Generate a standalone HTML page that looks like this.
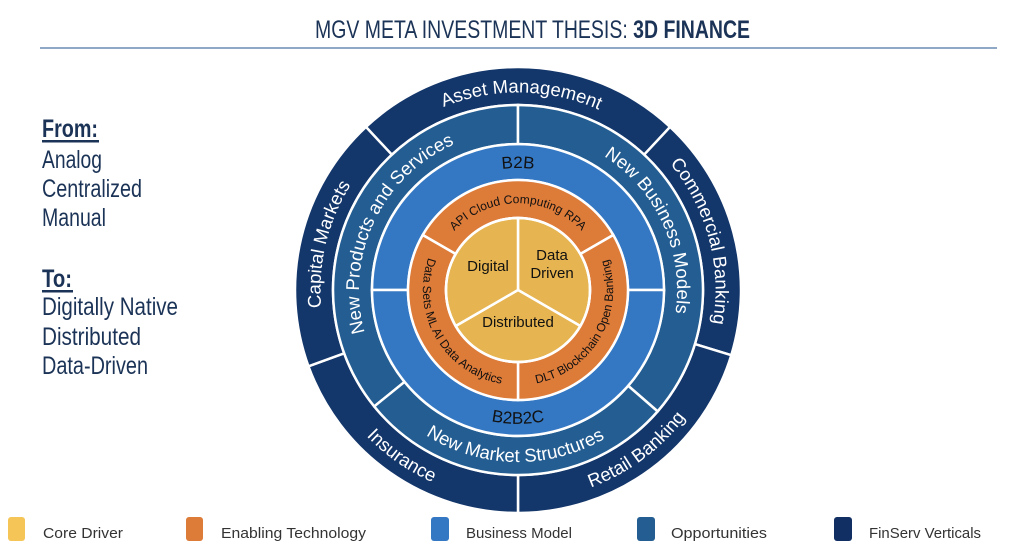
<!DOCTYPE html>
<html><head><meta charset="utf-8"><style>
html,body{margin:0;padding:0;background:#fff;}
svg{display:block}
.n{font-family:"Liberation Sans Narrow","Liberation Sans",sans-serif;fill:#1b3356}
.w{font-family:"Liberation Sans",sans-serif;fill:#fff}
.k{font-family:"Liberation Sans",sans-serif;fill:#111}
.lg{font-family:"Liberation Sans Narrow","Liberation Sans",sans-serif;fill:#333;font-size:15px}
</style></head><body>
<svg id="s" width="1024" height="559" viewBox="0 0 1024 559" xmlns="http://www.w3.org/2000/svg">
<defs id="d"></defs>
<text class="n" x="315" y="38" font-size="25" textLength="435" lengthAdjust="spacingAndGlyphs">MGV META INVESTMENT THESIS: <tspan font-weight="bold">3D FINANCE</tspan></text>
<rect x="40" y="47" width="957" height="2" fill="#8fa8c6"/>
<g class="n" font-size="25">
<text x="42" y="137" font-weight="bold" textLength="56" lengthAdjust="spacingAndGlyphs">From:</text>
<rect x="42" y="140" width="57" height="2.5" fill="#1b3356"/>
<text x="42" y="168" textLength="60" lengthAdjust="spacingAndGlyphs">Analog</text>
<text x="42" y="197" textLength="100" lengthAdjust="spacingAndGlyphs">Centralized</text>
<text x="42" y="226" textLength="64" lengthAdjust="spacingAndGlyphs">Manual</text>
<text x="42" y="287" font-weight="bold" textLength="30" lengthAdjust="spacingAndGlyphs">To:</text>
<rect x="42" y="290" width="31" height="2.5" fill="#1b3356"/>
<text x="42" y="315" textLength="136" lengthAdjust="spacingAndGlyphs">Digitally Native</text>
<text x="42" y="345" textLength="99" lengthAdjust="spacingAndGlyphs">Distributed</text>
<text x="42" y="374" textLength="106" lengthAdjust="spacingAndGlyphs">Data-Driven</text>
</g>
<g id="ring"></g>
<g class="k" font-size="15" text-anchor="middle">
<text x="488" y="271">Digital</text>
<text x="552" y="260">Data</text>
<text x="552" y="278">Driven</text>
<text x="518" y="327">Distributed</text>
</g>
<rect x="8" y="517" width="17" height="24" rx="3" fill="#f6c558"/>
<rect x="186" y="517" width="17" height="24" rx="3" fill="#dd7b39"/>
<rect x="431" y="517" width="18" height="24" rx="3" fill="#3478c4"/>
<rect x="637" y="517" width="18" height="24" rx="3" fill="#235d92"/>
<rect x="834" y="517" width="18" height="24" rx="3" fill="#112f62"/>
<text class="lg" x="43" y="538" textLength="80" lengthAdjust="spacingAndGlyphs">Core Driver</text>
<text class="lg" x="221" y="538" textLength="145" lengthAdjust="spacingAndGlyphs">Enabling Technology</text>
<text class="lg" x="466" y="538" textLength="106" lengthAdjust="spacingAndGlyphs">Business Model</text>
<text class="lg" x="671" y="538" textLength="96" lengthAdjust="spacingAndGlyphs">Opportunities</text>
<text class="lg" x="869" y="538" textLength="112" lengthAdjust="spacingAndGlyphs">FinServ Verticals</text>
</svg>
<script>
var cx=518,cy=290,NS="http://www.w3.org/2000/svg";
function P(r,a){a=a*Math.PI/180;return [(cx+r*Math.sin(a)).toFixed(2),(cy-r*Math.cos(a)).toFixed(2)];}
function sector(r1,r2,a0,a1){var l=(a1-a0)>180?1:0;var p=P(r2,a0),q=P(r2,a1),s=P(r1,a1),t=P(r1,a0);
return "M"+p+" A"+r2+","+r2+" 0 "+l+" 1 "+q+" L"+s+" A"+r1+","+r1+" 0 "+l+" 0 "+t+"Z";}
function arc(r,a0,a1){var cw=a1>a0;var l=Math.abs(a1-a0)>180?1:0;return "M"+P(r,a0)+" A"+r+","+r+" 0 "+l+" "+(cw?1:0)+" "+P(r,a1);}
var g=document.getElementById("ring"),d=document.getElementById("d"),h="",defs="",id=0;
function seg(r1,r2,a0,a1,c){h+='<path d="'+sector(r1,r2,a0,a1)+'" fill="'+c+'" stroke="#fff" stroke-width="2.5"/>';}
function txt(r,a0,a1,t,fs,cls){id++;var cw=a1>a0;var rr=cw?r-fs*0.35:r+fs*0.35;
defs+='<path id="p'+id+'" d="'+arc(rr,a0,a1)+'"/>';
h+='<text class="'+cls+'" font-size="'+fs+'" text-anchor="middle"><textPath href="#p'+id+'" startOffset="50%">'+t+'</textPath></text>';}
var N="#13366b",O="#235d92",B="#3478c4",R="#dd7b39",Y="#e6b450";
seg(185,223,-43,43,N);seg(185,223,43,107,N);seg(185,223,107,180,N);seg(185,223,180,250,N);seg(185,223,250,317,N);
seg(146,185,-129,0,O);seg(146,185,0,131,O);seg(146,185,131,231,O);
seg(110,146,-90,90,B);seg(110,146,90,270,B);
seg(72,110,-60,60,R);seg(72,110,60,180,R);seg(72,110,180,300,R);
seg(0.01,72,0,120,Y);seg(0.01,72,120,240,Y);seg(0.01,72,240,360,Y);
h+='<circle cx="'+cx+'" cy="'+cy+'" r="72" fill="none" stroke="#fff" stroke-width="2.5"/>';
txt(204,-43,45,"Asset Management",18.5,"w");
txt(204,43,107,"Commercial Banking",18.5,"w");
txt(204,180,107,"Retail Banking",18.5,"w");
txt(204,250,180,"Insurance",18.5,"w");
txt(204,250,317,"Capital Markets",18.5,"w");
txt(165.5,-129,0,"New Products and Services",18.5,"w");
txt(165.5,0,131,"New Business Models",18.5,"w");
txt(165.5,231,131,"New Market Structures",18.5,"w");
txt(128,-90,90,"B2B",17,"k");
txt(128,270,90,"B2B2C",17,"k");
txt(91,-60,60,"API Cloud Computing RPA",12,"k");
txt(91,180,60,"DLT Blockchain Open Banking",12,"k");
txt(91,300,180,"Data Sets ML AI Data Analytics",12,"k");
d.innerHTML=defs;g.innerHTML=h;
</script>
</body></html>
